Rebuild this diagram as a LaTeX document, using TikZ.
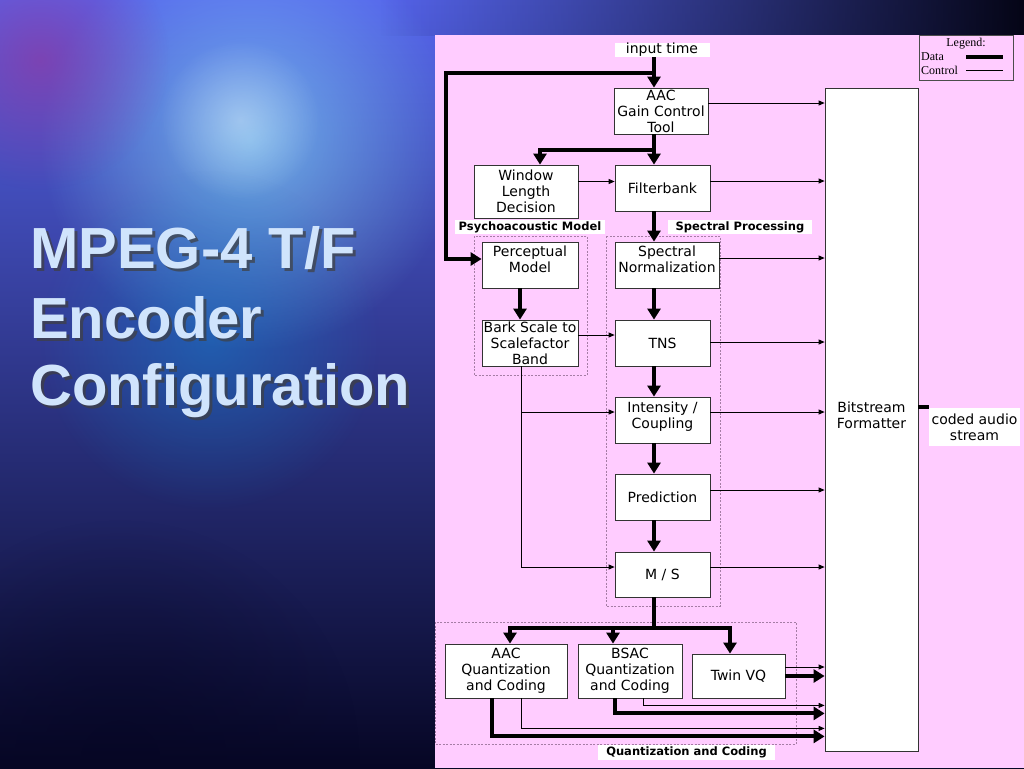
\documentclass[tikz,border=0pt]{standalone}
\usepackage{fontspec}
\setmainfont{DejaVu Sans}
\newfontfamily\legfont{Liberation Serif}
\newfontfamily\ttlfont{Liberation Sans}
\usetikzlibrary{arrows.meta,fadings}
\definecolor{panel}{RGB}{255,204,255}
\definecolor{grp}{RGB}{165,125,165}
\definecolor{ttl}{RGB}{208,228,252}
\definecolor{skytop}{RGB}{85,100,235}
\definecolor{skymid}{RGB}{42,80,215}
\definecolor{skylow}{RGB}{6,6,36}
\definecolor{skydark}{RGB}{5,5,22}
\tikzfading[name=glow,inner color=transparent!0,outer color=transparent!100]

\begin{document}
\begin{tikzpicture}[x=1pt,y=-1pt,
  blk/.style={draw=black!80,fill=white,line width=0.8pt,align=center,inner sep=0pt,
    font=\fontsize{14}{16}\selectfont},
  lift/.style={text depth=11pt},
  lbl/.style={fill=white,inner sep=0pt,font=\fontsize{11.5}{13}\selectfont\bfseries},
  data/.style={line width=4pt,-{Triangle[width=13pt,length=11pt]}},
  ctl/.style={line width=0.8pt,-{Triangle[width=5pt,length=6pt]}},
  grpbox/.style={draw=grp,line width=0.6pt,dash pattern=on 2pt off 1.5pt},
  ttlsty/.style={anchor=base west,inner sep=0pt,font=\ttlfont\fontsize{58}{70}\selectfont\bfseries},
  legtxt/.style={inner sep=0pt,font=\legfont\fontsize{12}{13}\selectfont}]
\useasboundingbox (0,0) rectangle (1024,768);
\shade[top color=skytop,middle color=skymid,bottom color=skylow] (0,0) rectangle (1024,768);
\fill[cyan!50!white,opacity=0.7,path fading=glow] (250,140) circle (210);
\fill[violet!80!white,opacity=0.6,path fading=glow] (40,60) circle (130);
\fill[cyan!70!blue,opacity=0.45,path fading=glow] (210,340) circle (170);
\fill[white,opacity=0.35,path fading=glow] (240,120) circle (80);
\fill[skylow,opacity=0.6,path fading=glow] (120,760) circle (240);
\fill[skydark,path fading=west] (380,0) rectangle (1024,36);
\fill[panel] (435,35) rectangle (1024,768);

\foreach \t/\y in {{MPEG-4 T/F}/268,Encoder/338,Configuration/405}{
  \node[ttlsty,text=black!75,opacity=0.7] at (33,\y+3) {\t};
  \node[ttlsty,text=ttl] at (30,\y) {\t};
}

\draw[grpbox] (474,236) rectangle (587,375);
\draw[grpbox] (606,236) rectangle (720,606);
\draw[grpbox] (435,622) rectangle (796,744);
\node[lbl,minimum width=150,minimum height=14] (lpsy) at (530,227) {Psychoacoustic Model};
\node[lbl,minimum width=144,minimum height=14] (lspec) at (740,227) {Spectral Processing};
\node[lbl,minimum width=177,minimum height=15] (lquant) at (686.5,752.5) {Quantization and Coding};

\node[blk,draw=none,minimum width=95,minimum height=14] (intime) at (662,50) {input time};
\node[blk,minimum width=94,minimum height=46] (gain) at (661,111) {AAC\\Gain Control\\Tool};
\node[blk,minimum width=104,minimum height=53] (wld) at (526,191.5) {Window\\Length\\Decision};
\node[blk,minimum width=95,minimum height=46] (filt) at (662.5,188) {Filterbank};
\node[blk,lift,minimum width=96,minimum height=46] (perc) at (530,265) {Perceptual\\Model};
\node[blk,lift,minimum width=104,minimum height=46] (snorm) at (667,265) {Spectral\\Normalization};
\node[blk,minimum width=96,minimum height=46] (bark) at (530,343) {Bark Scale to\\Scalefactor\\Band};
\node[blk,minimum width=95,minimum height=46] (tns) at (662.5,343) {TNS};
\node[blk,lift,text depth=10pt,minimum width=95,minimum height=46] (inten) at (662.5,420) {Intensity /\\Coupling};
\node[blk,minimum width=95,minimum height=46] (pred) at (662.5,497) {Prediction};
\node[blk,minimum width=95,minimum height=45] (ms) at (662.5,574.5) {M / S};
\node[blk,minimum width=122,minimum height=54] (aacq) at (506,671) {AAC\\Quantization\\and Coding};
\node[blk,minimum width=104,minimum height=54] (bsac) at (630,671) {BSAC\\Quantization\\and Coding};
\node[blk,minimum width=93,minimum height=44] (twin) at (738.5,676) {Twin VQ};
\node[blk,text depth=9pt,minimum width=93,minimum height=663] (bsf) at (871.5,419.5) {Bitstream\\Formatter};
\node[blk,draw=none,minimum width=91,minimum height=38] (coded) at (974.5,427) {coded audio\\stream};

\node[draw=black!70,line width=0.6pt,minimum width=94,minimum height=45] (leg) at (966,57.5) {};
\node[legtxt,anchor=north] (legt) at ([yshift=-3pt]leg.north) {Legend:};
\node[legtxt,anchor=west] (ldata) at (921,57) {Data};
\node[legtxt,anchor=west] (lctl) at (921,70) {Control};
\draw[line width=4pt] (966,57) -- ([xshift=-10pt]ldata.east -| leg.east);
\draw[line width=0.8pt] (966,70) -- ([xshift=-10pt]lctl.east -| leg.east);

\coordinate (spine) at (654,0);
\coordinate (loop) at (654,73);
\coordinate (split) at (654,150);
\coordinate (fork) at (654,628);
\coordinate (ctlbus) at ([xshift=-9pt]bark.south);

\draw[data] (intime.south -| spine) -- (gain.north -| spine);
\draw[data] (loop) -- (446,73) |- ([yshift=6pt]perc.west);
\draw[data] (gain.south -| spine) -- (filt.north -| spine);
\draw[data] (split) -| ([xshift=14pt]wld.north);
\draw[data] (filt.south -| spine) -- (snorm.north -| spine);
\draw[data] ([xshift=-10pt]perc.south) -- ([xshift=-10pt]bark.north);
\foreach \a/\b in {snorm/tns,tns/inten,inten/pred,pred/ms}
  \draw[data] (\a.south -| spine) -- (\b.north -| spine);
\draw[line width=4pt] (ms.south -| spine) -- (fork);
\draw[data] (fork) -| ([xshift=4pt]aacq.north);
\draw[data] (fork) -| ([xshift=-17pt]bsac.north);
\draw[data] (fork) -| ([xshift=-8.5pt]twin.north);
\draw[data] (twin.east) -- (twin.east -| bsf.west);
\draw[data] ([xshift=-15pt]bsac.south) |- ([yshift=-15pt]bsac.south -| bsf.west);
\draw[data] ([xshift=-14pt]aacq.south) |- ([yshift=-38pt]aacq.south -| bsf.west);
\draw[line width=4pt] ([yshift=13pt]bsf.east) -- ([yshift=13pt]bsf.east -| coded.west);

\foreach \n/\s in {gain/8,filt/7,snorm/7,tns/1,inten/8,pred/7,ms/7.5}
  \draw[ctl] ([yshift=\s pt]\n.east) -- ([yshift=\s pt]\n.east -| bsf.west);
\draw[ctl] ([yshift=10pt]wld.east) -- ([yshift=10pt]wld.east -| filt.west);
\draw[ctl] ([yshift=8pt]bark.east) -- ([yshift=8pt]bark.east -| tns.west);
\draw[ctl] (ctlbus) |- ([yshift=7.5pt]ms.west);
\draw[ctl] ([yshift=8pt]inten.west -| ctlbus) -- ([yshift=8pt]inten.west);
\draw[ctl] ([yshift=9pt]twin.east) -- ([yshift=9pt]twin.east -| bsf.west);
\draw[ctl] ([xshift=13pt]bsac.south) |- ([yshift=-7pt]bsac.south -| bsf.west);
\draw[ctl] ([xshift=15pt]aacq.south) |- ([yshift=-30pt]aacq.south -| bsf.west);
\end{tikzpicture}
\end{document}
